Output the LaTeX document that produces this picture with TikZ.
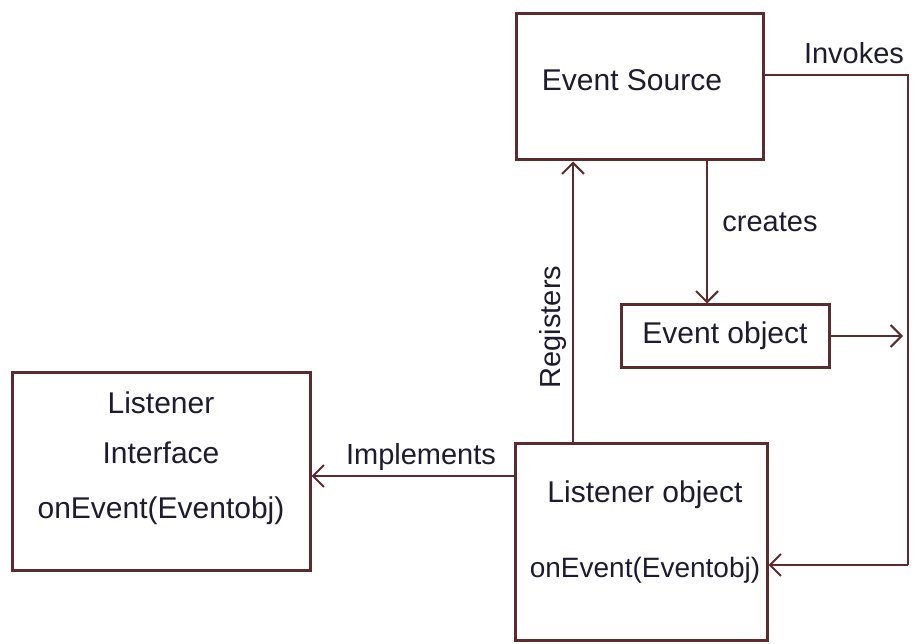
\documentclass[tikz,border=0pt]{standalone}
\usepackage{fontspec}
\setmainfont{Liberation Sans}
\usepackage{tikz}
\usetikzlibrary{arrows.meta,calc}
\definecolor{ink}{HTML}{5B2B2E}
\definecolor{pen}{HTML}{1E1A30}
\tikzset{
  box/.style={draw=ink, line width=3pt, inner sep=0pt, text=pen, align=center, font=\fontsize{30}{34}\selectfont},
  boxtext/.style={text=pen, align=center, font=\fontsize{30}{34}\selectfont},
  link/.style={draw=ink, line width=2.4pt, -{Straight Barb[length=11pt,width=22pt,line width=2pt]}},
  lbl/.style={text=pen, font=\fontsize{29}{33}\selectfont}
}

\begin{document}
\begin{tikzpicture}[x=1pt,y=-1pt]
\useasboundingbox (0,0) rectangle (921,644);
\node[box, minimum width=247pt, minimum height=146pt] (src) at (639.5,87) {};
\node[boxtext] (srctxt) at (632,80) {Event Source};
\node[box, minimum width=208pt, minimum height=62pt] (evobj) at (725,336) {Event object};
\node[box, minimum width=298pt, minimum height=198pt] (iface) at (161,471) {};
\node[boxtext] (ifacetxt) at (161,458) {Listener\\[16pt] Interface\\[21pt] onEvent(Eventobj)};
\node[box, minimum width=252pt, minimum height=197pt] (lobj) at (641,541.5) {};
\node[boxtext] (lobjtxt) at (645,532) {Listener object\\[41pt] {\fontsize{28}{32}\selectfont onEvent(Eventobj)}};
% corners of the invoke path
\coordinate (inv1) at (908,75);
\coordinate (inv2) at (908,565);
\coordinate (evend) at (903,336);
\draw[link, -] (src.east |- inv1) -- (inv1) -- (inv2);
\draw[link] (inv2) -- (lobj.east |- inv2);
\draw[link] (evobj.east) -- (evend);
\draw[link] (src.south -| 707,0) -- (evobj.north -| 707,0);
\draw[link] (lobj.north -| 573,0) -- (src.south -| 573,0);
\draw[link] (lobj.west |- 0,476) -- (iface.east |- 0,476);
\node[lbl] (invokes) at (854,53) {Invokes};
\node[lbl] (creates) at (770,222) {creates};
\node[lbl, rotate=90] (registers) at (553,327) {Registers};
\node[lbl] (implements) at (421,457) {Implements};
\end{tikzpicture}
\end{document}
